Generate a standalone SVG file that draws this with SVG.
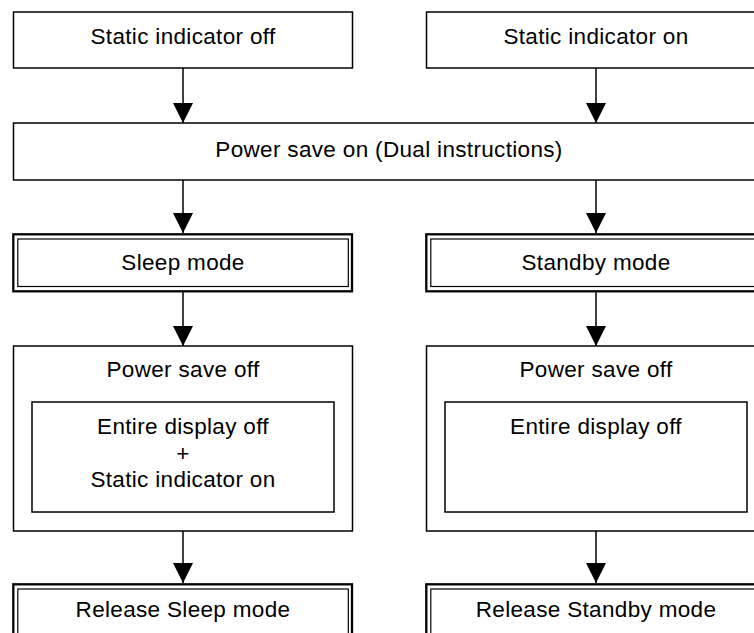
<svg xmlns="http://www.w3.org/2000/svg" width="754" height="633" viewBox="0 0 754 633">
<style>
  .box{fill:#fff;stroke:#000;stroke-width:1.5}
  .outer{fill:#fff;stroke:#000;stroke-width:2.3}
  .inner{fill:none;stroke:#000;stroke-width:1.2}
  .t{font-family:"Liberation Sans",Arial,sans-serif;font-size:22.5px;letter-spacing:0.33px;fill:#000;text-anchor:middle}
  .c{stroke:#000;stroke-width:1.5;fill:none}
</style>
<defs>
  <marker id="ah" markerUnits="userSpaceOnUse" markerWidth="20" markerHeight="20" refX="20" refY="10" orient="auto">
    <path d="M0,0 L20,10 L0,20 Z" fill="#000"/>
  </marker>
</defs>
<rect width="754" height="633" fill="#fff"/>
<g id="connectors">
  <line class="c" x1="183" y1="68" x2="183" y2="123" marker-end="url(#ah)"/>
  <line class="c" x1="596" y1="68" x2="596" y2="123" marker-end="url(#ah)"/>
  <line class="c" x1="183" y1="180" x2="183" y2="233" marker-end="url(#ah)"/>
  <line class="c" x1="596" y1="180" x2="596" y2="233" marker-end="url(#ah)"/>
  <line class="c" x1="183" y1="292" x2="183" y2="346" marker-end="url(#ah)"/>
  <line class="c" x1="596" y1="292" x2="596" y2="346" marker-end="url(#ah)"/>
  <line class="c" x1="183" y1="531" x2="183" y2="583" marker-end="url(#ah)"/>
  <line class="c" x1="596" y1="531" x2="596" y2="583" marker-end="url(#ah)"/>
</g>
<g id="static-off">
  <rect class="box" x="13.5" y="12" width="339" height="56"/>
  <text class="t" x="183" y="43.5">Static indicator off</text>
</g>
<g id="static-on">
  <rect class="box" x="426.5" y="12" width="339" height="56"/>
  <text class="t" x="596" y="43.5">Static indicator on</text>
</g>
<g id="power-save-on">
  <rect class="box" x="13.5" y="123" width="752" height="57"/>
  <text class="t" x="389" y="157">Power save on (Dual instructions)</text>
</g>
<g id="sleep-mode">
  <rect class="outer" x="13.3" y="234.3" width="338.7" height="57"/>
  <rect class="inner" x="17.8" y="239" width="330.5" height="47.5"/>
  <text class="t" x="183" y="269.5">Sleep mode</text>
</g>
<g id="standby-mode">
  <rect class="outer" x="426.3" y="234.3" width="338.7" height="57"/>
  <rect class="inner" x="430.8" y="239" width="330.5" height="47.5"/>
  <text class="t" x="596" y="269.5">Standby mode</text>
</g>
<g id="power-save-off-left">
  <rect class="box" x="13.5" y="346" width="339" height="185"/>
  <text class="t" x="183" y="377">Power save off</text>
  <rect class="box" x="32" y="402" width="302" height="110"/>
  <text class="t" x="183" y="434">Entire display off</text>
  <text class="t" x="183" y="461">+</text>
  <text class="t" x="183" y="487">Static indicator on</text>
</g>
<g id="power-save-off-right">
  <rect class="box" x="426.5" y="346" width="339" height="185"/>
  <text class="t" x="596" y="377">Power save off</text>
  <rect class="box" x="445" y="402" width="302" height="110"/>
  <text class="t" x="596" y="434">Entire display off</text>
</g>
<g id="release-sleep">
  <rect class="outer" x="13.3" y="584.3" width="338.7" height="60"/>
  <rect class="inner" x="17.8" y="589" width="330.5" height="60"/>
  <text class="t" x="183" y="617">Release Sleep mode</text>
</g>
<g id="release-standby">
  <rect class="outer" x="426.3" y="584.3" width="338.7" height="60"/>
  <rect class="inner" x="430.8" y="589" width="330.5" height="60"/>
  <text class="t" x="596" y="617">Release Standby mode</text>
</g>
</svg>
